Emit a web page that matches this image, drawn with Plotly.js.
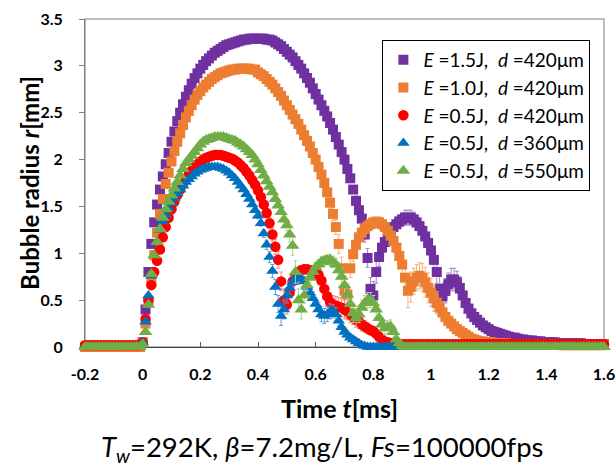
<!DOCTYPE html>
<html><head><meta charset="utf-8">
<script src="https://cdn.plot.ly/plotly-3.0.1.min.js"></script>
<style>body{margin:0;background:#fff}</style>
</head><body><div id="chart" style="width:616px;height:469px"></div>
<script>
// Sampling grid: Fs = 100000 fps -> 0.01 ms per frame, from -0.2 ms to 1.6 ms
const timeStart = -0.2, frameStep = 0.01, frameCount = 181;
const timeMs = Array.from({length: frameCount}, (_, i) => +(timeStart + i * frameStep).toFixed(2));

const seriesNames = [
  '<i>E</i> =1.5J,\u00a0 <i>d</i> =420\u03bcm',
  '<i>E</i> =1.0J,\u00a0 <i>d</i> =420\u03bcm',
  '<i>E</i> =0.5J,\u00a0 <i>d</i> =420\u03bcm',
  '<i>E</i> =0.5J,\u00a0 <i>d</i> =360\u03bcm',
  '<i>E</i> =0.5J,\u00a0 <i>d</i> =550\u03bcm'
];

// Bubble radius r [mm], one value per frame
const rE15d420 = [
  0,0,0,0,0,0,0,0,0,0, 0,0,0,0,0,0,0,0,0,0,
  0.05,0.40,0.80,1.10,1.33,1.52,1.68,1.82,1.95,2.07,
  2.19,2.30,2.41,2.50,2.59,2.67,2.74,2.81,2.87,2.92,
  2.97,3.01,3.05,3.08,3.11,3.14,3.16,3.18,3.20,3.22,
  3.23,3.24,3.25,3.26,3.27,3.28,3.28,3.29,3.29,3.29,
  3.29,3.29,3.29,3.28,3.28,3.27,3.25,3.23,3.21,3.18,
  3.15,3.12,3.09,3.05,3.01,2.97,2.92,2.87,2.82,2.76,
  2.70,2.64,2.58,2.52,2.46,2.39,2.32,2.24,2.16,2.08,
  2.00,1.90,1.80,1.68,1.56,1.46,1.37,1.20,0.95,0.62,
  0.55,0.80,0.96,1.06,1.12,1.18,1.23,1.28,1.31,1.34,
  1.36,1.38,1.38,1.38,1.36,1.33,1.29,1.24,1.18,1.11,
  1.03,0.93,0.80,0.62,0.54,0.60,0.67,0.72,0.72,0.69,
  0.63,0.55,0.47,0.41,0.36,0.32,0.29,0.26,0.23,0.21,
  0.19,0.17,0.16,0.15,0.14,0.13,0.12,0.11,0.10,0.10,
  0.09,0.08,0.08,0.07,0.07,0.07,0.06,0.06,0.06,0.05,
  0.05,0.05,0.05,0.05,0.04,0.04,0.04,0.04,0.04,0.04,
  0.04,0.04,0.04,0.03,0.03,0.03,0.03,0.03,0.03,0.03,
  0.03
];
const rE10d420 = [
  0,0,0,0,0,0,0,0,0,0, 0,0,0,0,0,0,0,0,0,0,
  0.05,0.25,0.48,0.72,0.98,1.22,1.42,1.58,1.74,1.86,
  1.98,2.09,2.19,2.28,2.37,2.45,2.52,2.58,2.64,2.69,
  2.73,2.77,2.80,2.83,2.86,2.88,2.90,2.92,2.93,2.94,
  2.95,2.96,2.96,2.97,2.97,2.97,2.97,2.97,2.96,2.96,
  2.93,2.91,2.89,2.86,2.83,2.80,2.76,2.72,2.68,2.63,
  2.58,2.53,2.48,2.43,2.38,2.32,2.26,2.20,2.14,2.07,
  2.00,1.92,1.84,1.75,1.65,1.54,1.42,1.28,1.10,0.84,
  0.60,0.56,0.84,0.99,1.09,1.17,1.22,1.26,1.29,1.31,
  1.33,1.33,1.33,1.31,1.28,1.24,1.19,1.13,1.06,0.97,
  0.88,0.74,0.60,0.64,0.70,0.74,0.76,0.74,0.69,0.63,
  0.58,0.52,0.47,0.42,0.37,0.32,0.28,0.25,0.22,0.19,
  0.17,0.15,0.13,0.11,0.09,0.08,0.07,0.06,0.06,0.05,
  0.05,0.05,0.04,0.04,0.04,0.04,0.04,0.03,0.03,0.03,
  0.03,0.03,0.03,0.03,0.03,0.03,0.03,0.03,0.03,0.03,
  0.03,0.03,0.03,0.03,0.03,0.02,0.02,0.02,0.02,0.02,
  0.02,0.02,0.02,0.02,0.02,0.02,0.02,0.02,0.02,0.02,
  0.02
];
const rE05d420 = [
  0.02,0.02,0.02,0.02,0.02,0.02,0.02,0.02,0.02,0.02, 0.02,0.02,0.02,0.02,0.02,0.02,0.02,0.02,0.02,0.02,
  0.05,0.30,0.50,0.66,0.80,0.92,1.04,1.17,1.28,1.38,
  1.47,1.55,1.62,1.68,1.74,1.79,1.84,1.88,1.92,1.95,
  1.98,2.00,2.02,2.03,2.04,2.05,2.05,2.05,2.04,2.03,
  2.02,2.01,1.99,1.97,1.94,1.91,1.87,1.83,1.78,1.73,
  1.67,1.60,1.52,1.43,1.32,1.20,1.07,0.93,0.70,0.50,
  0.45,0.58,0.70,0.76,0.80,0.82,0.83,0.83,0.82,0.80,
  0.79,0.77,0.71,0.62,0.54,0.48,0.45,0.44,0.43,0.42,
  0.40,0.38,0.35,0.32,0.29,0.27,0.24,0.22,0.20,0.18,
  0.17,0.14,0.11,0.08,0.06,0.05,0.04,0.04,0.03,0.03,
  0.03,0.03,0.03,0.03,0.03,0.03,0.03,0.03,0.03,0.03,
  0.03,0.03,0.03,0.03,0.03,0.03,0.03,0.03,0.03,0.03,
  0.03,0.03,0.03,0.03,0.03,0.03,0.03,0.03,0.03,0.03,
  0.03,0.03,0.03,0.03,0.03,0.03,0.03,0.03,0.03,0.03,
  0.03,0.03,0.03,0.03,0.03,0.03,0.03,0.03,0.03,0.03,
  0.03,0.03,0.03,0.03,0.03,0.03,0.03,0.03,0.03,0.03,
  0.03,0.03,0.03,0.03,0.03,0.03,0.03,0.03,0.03,0.03,
  0.03
];
const rE05d360 = [
  0,0,0,0,0,0,0,0,0,0, 0,0,0,0,0,0,0,0,0,0,
  0.05,0.27,0.55,0.76,0.98,1.12,1.25,1.34,1.41,1.48,
  1.54,1.59,1.64,1.68,1.72,1.76,1.79,1.82,1.85,1.87,
  1.89,1.90,1.91,1.92,1.92,1.92,1.92,1.91,1.90,1.88,
  1.86,1.83,1.80,1.76,1.72,1.68,1.63,1.58,1.52,1.46,
  1.40,1.32,1.21,1.09,0.96,0.81,0.64,0.46,0.33,0.40,
  0.55,0.63,0.69,0.73,0.74,0.73,0.70,0.64,0.58,0.52,
  0.46,0.40,0.35,0.33,0.35,0.38,0.38,0.35,0.28,0.21,
  0.16,0.13,0.10,0.08,0.06,0.04,0.02,0.01,0,0,
  0,0,0,0,0,0,0,0,0,0, 0,0,0,0,0,0,0,0,0,0,
  0,0,0,0,0,0,0,0,0,0, 0,0,0,0,0,0,0,0,0,0,
  0,0,0,0,0,0,0,0,0,0, 0,0,0,0,0,0,0,0,0,0,
  0,0,0,0,0,0,0,0,0,0, 0,0,0,0,0,0,0,0,0,0,
  0
];
const rE05d550 = [
  0,0,0,0,0,0,0,0,0,0, 0,0,0,0,0,0,0,0,0,0,
  0.03,0.16,0.45,0.78,0.98,1.12,1.26,1.38,1.47,1.55,
  1.62,1.69,1.76,1.83,1.90,1.96,2.00,2.04,2.08,2.12,
  2.16,2.19,2.21,2.22,2.23,2.24,2.24,2.24,2.24,2.23,
  2.22,2.21,2.20,2.18,2.16,2.14,2.11,2.08,2.05,2.00,
  1.95,1.89,1.83,1.77,1.71,1.65,1.58,1.51,1.44,1.36,
  1.30,1.20,1.08,0.80,0.50,0.40,0.55,0.66,0.74,0.80,
  0.85,0.88,0.91,0.92,0.93,0.93,0.91,0.88,0.82,0.75,
  0.66,0.56,0.46,0.36,0.31,0.35,0.42,0.47,0.50,0.50,
  0.47,0.40,0.31,0.24,0.20,0.21,0.22,0.16,0.08,0.04,
  0.01,0,0,0,0,0,0,0,0,0,
  0,0,0,0,0,0,0,0,0,0, 0,0,0,0,0,0,0,0,0,0,
  0,0,0,0,0,0,0,0,0,0, 0,0,0,0,0,0,0,0,0,0,
  0,0,0,0,0,0,0,0,0,0, 0,0,0,0,0,0,0,0,0,0,
  0
];

// Standard deviation of r [mm] (error bars), one value per frame
const sdE15d420 = [
  0.01,0.01,0.01,0.01,0.01,0.01,0.01,0.01,0.01,0.01, 0.01,0.01,0.01,0.01,0.01,0.01,0.01,0.01,0.01,0.01,
  0.02,0.02,0.02,0.02,0.02,0.02,0.02,0.02,0.02,0.02, 0.02,0.02,0.02,0.02,0.02,0.02,0.02,0.02,0.02,0.02,
  0.02,0.02,0.02,0.02,0.02,0.02,0.02,0.02,0.02,0.02, 0.02,0.02,0.02,0.02,0.02,0.02,0.02,0.02,0.02,0.02,
  0.02,0.02,0.02,0.02,0.02,0.02,0.02,0.02,0.02,0.02, 0.02,0.02,0.02,0.02,0.02,0.02,0.02,0.02,0.02,0.02,
  0.02,0.02,0.02,0.02,0.02,0.02,0.02,0.02,0.02,0.02,
  0.03,0.03,0.04,0.04,0.05,0.05,0.06,0.08,0.10,0.12,
  0.15,0.12,0.10,0.08,0.07,0.06,0.06,0.06,0.06,0.07,
  0.07,0.08,0.08,0.08,0.08,0.08,0.08,0.08,0.09,0.09,
  0.10,0.10,0.12,0.14,0.14,0.13,0.12,0.12,0.12,0.12,
  0.12,0.12,0.11,0.10,0.09,0.08,0.07,0.06,0.05,0.05,
  0.04,0.04,0.04,0.04,0.04,0.04,0.04,0.04,0.04,0.04,
  0.03,0.03,0.03,0.03,0.03,0.03,0.03,0.03,0.03,0.03,
  0.02,0.02,0.02,0.02,0.02,0.02,0.02,0.02,0.02,0.02, 0.02,0.02,0.02,0.02,0.02,0.02,0.02,0.02,0.02,0.02,
  0.02
];
const sdE10d420 = [
  0.01,0.01,0.01,0.01,0.01,0.01,0.01,0.01,0.01,0.01, 0.01,0.01,0.01,0.01,0.01,0.01,0.01,0.01,0.01,0.01,
  0.02,0.02,0.02,0.02,0.02,0.02,0.02,0.02,0.02,0.02, 0.02,0.02,0.02,0.02,0.02,0.02,0.02,0.02,0.02,0.02,
  0.02,0.02,0.02,0.02,0.02,0.02,0.02,0.02,0.02,0.02, 0.02,0.02,0.02,0.02,0.02,0.02,0.02,0.02,0.02,0.02,
  0.02,0.02,0.02,0.02,0.02,0.02,0.02,0.02,0.02,0.02, 0.02,0.02,0.02,0.02,0.02,0.02,0.02,0.02,0.02,0.02,
  0.03,0.03,0.04,0.04,0.05,0.06,0.07,0.08,0.10,0.12,
  0.15,0.12,0.10,0.08,0.07,0.06,0.06,0.06,0.06,0.06,
  0.06,0.06,0.06,0.07,0.07,0.08,0.09,0.10,0.12,0.13,
  0.14,0.16,0.18,0.16,0.14,0.14,0.14,0.15,0.16,0.16,
  0.15,0.14,0.12,0.10,0.08,0.07,0.06,0.05,0.05,0.04,
  0.04,0.03,0.03,0.03,0.03,0.02,0.02,0.02,0.02,0.02,
  0.02,0.02,0.02,0.02,0.02,0.02,0.02,0.02,0.02,0.02, 0.02,0.02,0.02,0.02,0.02,0.02,0.02,0.02,0.02,0.02,
  0.02,0.02,0.02,0.02,0.02,0.02,0.02,0.02,0.02,0.02, 0.02,0.02,0.02,0.02,0.02,0.02,0.02,0.02,0.02,0.02,
  0.02
];
const sdE05d420 = [
  0.02,0.02,0.02,0.02,0.02,0.02,0.02,0.02,0.02,0.02, 0.02,0.02,0.02,0.02,0.02,0.02,0.02,0.02,0.02,0.02,
  0.02,0.02,0.02,0.02,0.02,0.02,0.02,0.02,0.02,0.02, 0.02,0.02,0.02,0.02,0.02,0.02,0.02,0.02,0.02,0.02,
  0.02,0.02,0.02,0.02,0.02,0.02,0.02,0.02,0.02,0.02, 0.02,0.02,0.02,0.02,0.02,0.02,0.02,0.02,0.02,0.02,
  0.03,0.03,0.04,0.05,0.06,0.07,0.08,0.09,0.10,0.12,
  0.10,0.08,0.06,0.05,0.05,0.05,0.05,0.05,0.05,0.06,
  0.06,0.07,0.08,0.09,0.10,0.10,0.10,0.10,0.10,0.10,
  0.10,0.09,0.09,0.08,0.08,0.07,0.07,0.06,0.06,0.05,
  0.05,0.04,0.04,0.03,0.03,0.03,0.02,0.02,0.02,0.02,
  0.02,0.02,0.02,0.02,0.02,0.02,0.02,0.02,0.02,0.02, 0.02,0.02,0.02,0.02,0.02,0.02,0.02,0.02,0.02,0.02,
  0.02,0.02,0.02,0.02,0.02,0.02,0.02,0.02,0.02,0.02, 0.02,0.02,0.02,0.02,0.02,0.02,0.02,0.02,0.02,0.02,
  0.02,0.02,0.02,0.02,0.02,0.02,0.02,0.02,0.02,0.02, 0.02,0.02,0.02,0.02,0.02,0.02,0.02,0.02,0.02,0.02,
  0.02,0.02,0.02,0.02,0.02,0.02,0.02,0.02,0.02,0.02,
  0.02
];
const sdE05d360 = [
  0.01,0.01,0.01,0.01,0.01,0.01,0.01,0.01,0.01,0.01, 0.01,0.01,0.01,0.01,0.01,0.01,0.01,0.01,0.01,0.01,
  0.02,0.02,0.02,0.02,0.02,0.02,0.02,0.02,0.02,0.02, 0.02,0.02,0.02,0.02,0.02,0.02,0.02,0.02,0.02,0.02,
  0.02,0.02,0.02,0.02,0.02,0.02,0.02,0.02,0.02,0.02, 0.02,0.02,0.02,0.02,0.02,0.02,0.02,0.02,0.02,0.02,
  0.03,0.03,0.04,0.05,0.06,0.07,0.08,0.09,0.10,0.10,
  0.08,0.07,0.06,0.05,0.05,0.05,0.05,0.06,0.06,0.07,
  0.07,0.08,0.08,0.08,0.08,0.08,0.07,0.07,0.06,0.05,
  0.05,0.04,0.04,0.03,0.03,0.02,0.02,0.02,0.02,0.02,
  0.01,0.01,0.01,0.01,0.01,0.01,0.01,0.01,0.01,0.01, 0.01,0.01,0.01,0.01,0.01,0.01,0.01,0.01,0.01,0.01,
  0.01,0.01,0.01,0.01,0.01,0.01,0.01,0.01,0.01,0.01, 0.01,0.01,0.01,0.01,0.01,0.01,0.01,0.01,0.01,0.01,
  0.01,0.01,0.01,0.01,0.01,0.01,0.01,0.01,0.01,0.01, 0.01,0.01,0.01,0.01,0.01,0.01,0.01,0.01,0.01,0.01,
  0.01,0.01,0.01,0.01,0.01,0.01,0.01,0.01,0.01,0.01, 0.01,0.01,0.01,0.01,0.01,0.01,0.01,0.01,0.01,0.01,
  0.01
];
const sdE05d550 = [
  0.02,0.02,0.02,0.02,0.02,0.02,0.02,0.02,0.02,0.02, 0.02,0.02,0.02,0.02,0.02,0.02,0.02,0.02,0.02,0.02,
  0.02,0.02,0.02,0.02,0.02,0.02,0.02,0.02,0.02,0.02, 0.02,0.02,0.02,0.02,0.02,0.02,0.02,0.02,0.02,0.02,
  0.02,0.02,0.02,0.02,0.02,0.02,0.02,0.02,0.02,0.02, 0.02,0.02,0.02,0.02,0.02,0.02,0.02,0.02,0.02,0.02,
  0.02,0.02,0.02,0.02,0.02,0.02,0.02,0.02,0.02,0.02,
  0.06,0.08,0.10,0.12,0.12,0.10,0.08,0.06,0.05,0.05,
  0.05,0.05,0.05,0.05,0.05,0.06,0.06,0.07,0.08,0.09,
  0.10,0.10,0.10,0.10,0.10,0.09,0.08,0.08,0.08,0.08,
  0.08,0.08,0.08,0.07,0.07,0.07,0.07,0.06,0.05,0.04,
  0.03,0.02,0.02,0.02,0.02,0.02,0.02,0.02,0.02,0.02,
  0.02,0.02,0.02,0.02,0.02,0.02,0.02,0.02,0.02,0.02, 0.02,0.02,0.02,0.02,0.02,0.02,0.02,0.02,0.02,0.02,
  0.02,0.02,0.02,0.02,0.02,0.02,0.02,0.02,0.02,0.02, 0.02,0.02,0.02,0.02,0.02,0.02,0.02,0.02,0.02,0.02,
  0.02,0.02,0.02,0.02,0.02,0.02,0.02,0.02,0.02,0.02, 0.02,0.02,0.02,0.02,0.02,0.02,0.02,0.02,0.02,0.02,
  0.02
];

const xTickVals = [-0.2, 0, 0.2, 0.4, 0.6, 0.8, 1, 1.2, 1.4, 1.6];
const xTickText = ['-0.2','0','0.2','0.4','0.6','0.8','1','1.2','1.4','1.6'];
const yTickVals = [0, 0.5, 1, 1.5, 2, 2.5, 3, 3.5];
const yTickText = ['0','0.5','1','1.5','2','2.5','3','3.5'];

const seriesData = [rE15d420, rE10d420, rE05d420, rE05d360, rE05d550];
const seriesSd = [sdE15d420, sdE10d420, sdE05d420, sdE05d360, sdE05d550];
const colors = ['#7030A0', '#ED7D31', '#FF0000', '#0070C0', '#70AD47'];
const errColors = ['#A785C6', '#F4B183', '#FF8080', '#5B9BD5', '#A9D18E'];
const symbols = ['square', 'square', 'circle', 'triangle-up', 'triangle-up'];
const sizes = [10, 10, 10.5, 11, 12];

const traces = seriesData.map((r, k) => ({
  type: 'scatter', mode: 'markers', x: timeMs, y: r, name: seriesNames[k],
  cliponaxis: false,
  error_y: {type: 'data', array: seriesSd[k], visible: true, color: errColors[k], thickness: 1, width: 2},
  marker: {color: colors[k], symbol: symbols[k], size: sizes[k], line: {width: 0}}
}));

const layout = {
  width: 616, height: 469,
  margin: {l: 85, r: 12, t: 19, b: 122},
  paper_bgcolor: '#fff', plot_bgcolor: '#fff',
  font: {family: 'Lato, sans-serif', color: '#000'},
  showlegend: true,
  legend: {x: 0.573, y: 0.936, xanchor: 'left', yanchor: 'top', bgcolor: '#fff',
    bordercolor: '#000', borderwidth: 1, font: {size: 19, family: 'Lato, sans-serif', color: '#000'},
    itemwidth: 30, tracegroupgap: 0},
  xaxis: {range: [-0.2, 1.6], tickmode: 'array', tickvals: xTickVals, ticktext: xTickText,
    ticks: 'inside', ticklen: 5, tickcolor: '#595959', showgrid: false, zeroline: false,
    showline: true, linecolor: '#404040', linewidth: 1, layer: 'below traces',
    tickfont: {size: 16, family: 'Lato, sans-serif', weight: 'bold', color: '#000'}, ticklabelstandoff: 13},
  yaxis: {range: [0, 3.5], tickmode: 'array', tickvals: yTickVals, ticktext: yTickText,
    ticks: 'outside', ticklen: 5, tickcolor: '#808080', showgrid: false, zeroline: false,
    showline: true, linecolor: '#7f7f7f', linewidth: 1, layer: 'below traces',
    tickfont: {size: 16, family: 'Lato, sans-serif', weight: 'bold', color: '#000'}, ticklabelstandoff: 13},
  shapes: [{type: 'rect', xref: 'paper', yref: 'paper', x0: 0, x1: 1, y0: 0, y1: 1,
    line: {color: '#a6a6a6', width: 1.5}, layer: 'below'}],
  annotations: [
    {xref: 'paper', yref: 'paper', x: -0.108, y: 0.5, xanchor: 'center', yanchor: 'middle', textangle: -90, showarrow: false,
      text: '<b>Bubble radius <i>r</i>[mm]</b>', font: {size: 24, family: 'Lato, sans-serif', color: '#000'}},
    {xref: 'paper', yref: 'paper', x: 0.491, y: -0.185, xanchor: 'center', yanchor: 'middle', showarrow: false,
      text: '<b>Time <i>t</i>[ms]</b>', font: {size: 25, family: 'Lato, sans-serif', color: '#000'}},
    {xref: 'paper', yref: 'paper', x: 0.458, y: -0.31, xanchor: 'center', yanchor: 'middle', showarrow: false,
      text: '<i>T</i><sub><i>w</i></sub>=292K, <i>\u03b2</i>=7.2mg/L, <i>Fs</i>=100000fps',
      font: {size: 27.5, family: 'Lato, sans-serif', color: '#000'}}
  ]
};

Plotly.newPlot('chart', traces, layout, {staticPlot: true, displayModeBar: false});
</script></body></html>
